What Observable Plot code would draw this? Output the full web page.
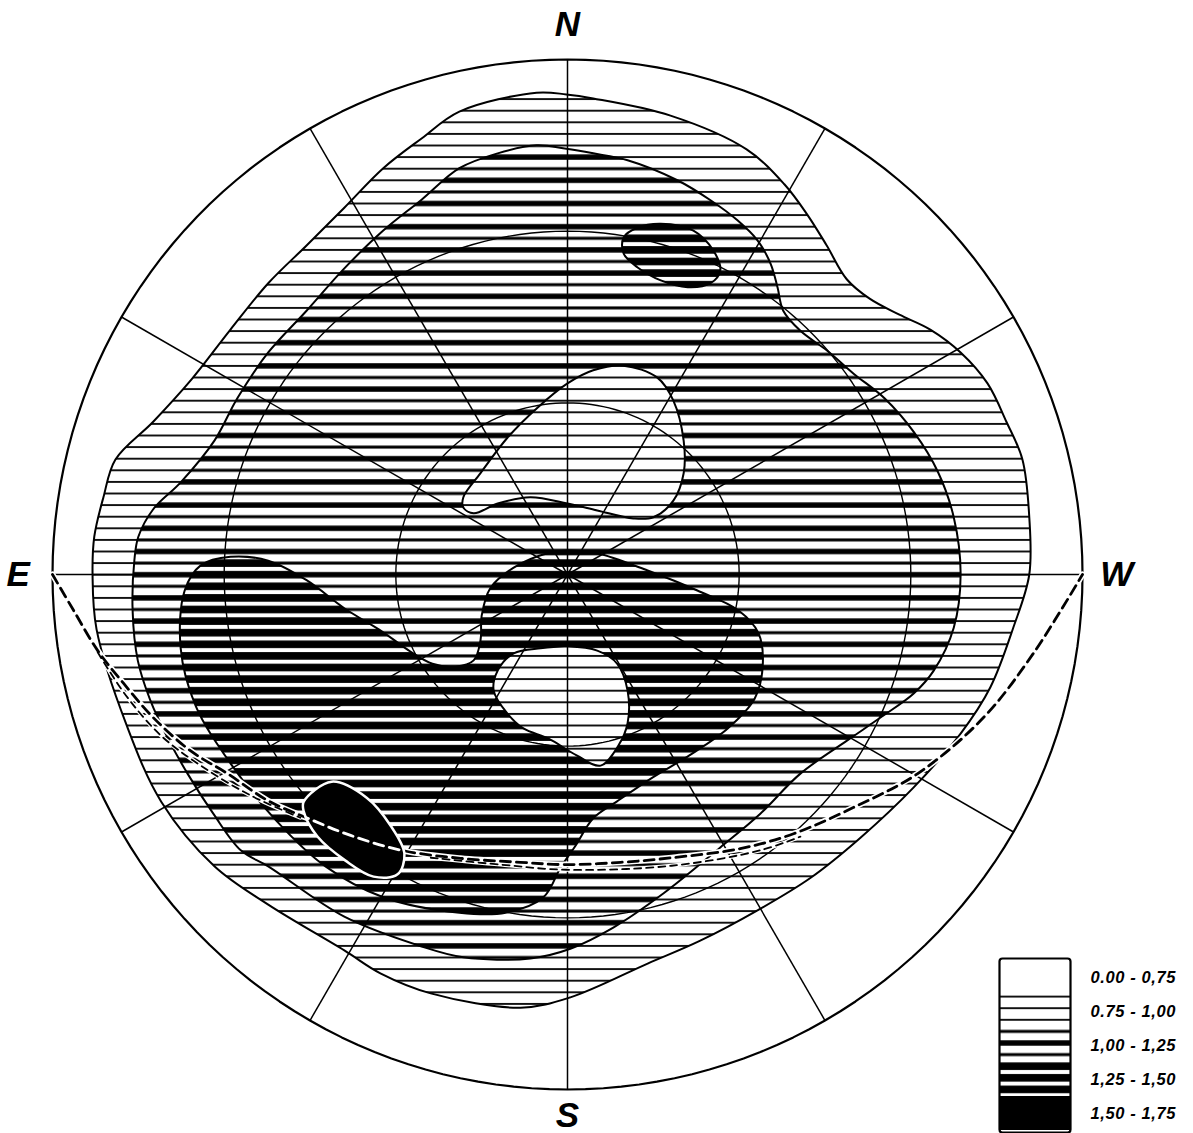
<!DOCTYPE html>
<html>
<head>
<meta charset="utf-8">
<script src="https://cdn.jsdelivr.net/npm/d3@7"></script>
<script src="https://cdn.jsdelivr.net/npm/@observablehq/plot@0.6"></script>
<style>
html, body { margin: 0; padding: 0; background: #fff; overflow: hidden; }
#wrap { position: relative; width: 1193px; height: 1133px; }
#legend { position: absolute; left: 997px; top: 956px; display: flex; }
</style>
</head>
<body>
<div id="wrap"><div id="legend"></div></div>
<script>
// ---------- DATA (x, y in degrees of zenith distance; x → west, y → north) ----------
const classes = ["0.00 - 0,75", "0.75 - 1,00", "1,00 - 1,25", "1,25 - 1,50", "1,50 - 1,75"];

// outer contour 0.75 (light hatched region)
const contour075 = [[-0.2,83.9],[4.5,83.2],[18.0,80.2],[31.3,74.3],[37.9,68.2],[41.9,62.9],[45.3,57.5],[48.8,51.6],[52.8,48.2],[58.0,45.4],[63.4,42.8],[68.7,38.8],[73.4,33.4],[76.7,26.7],[79.5,20.1],[80.7,10.0],[80.7,0],[77.9,-9.3],[73.9,-19.7],[68.7,-27.8],[60.5,-37.2],[51.2,-46.0],[42.5,-53.0],[33.2,-58.7],[23.2,-64.0],[14.0,-68.0],[0.5,-73.9],[-8.2,-75.7],[-23.9,-73.2],[-32.7,-69.7],[-39.0,-65.7],[-52.3,-57.7],[-61.7,-51.0],[-71.0,-39.7],[-77.1,-26.2],[-82.3,-9.6],[-83.0,0],[-82.7,6.6],[-81.1,13.5],[-79.0,20.1],[-72.4,26.7],[-65.7,34.1],[-58.9,42.8],[-52.3,50.9],[-45.6,57.5],[-39.0,64.1],[-32.2,71.0],[-25.5,76.2],[-18.9,80.9],[-5.4,84.2]];

// contour 1.00 (medium hatched region)
const contour100 = [[-5.4,75.0],[-0.2,74.4],[4.5,73.6],[10.5,72.4],[19.2,68.9],[25.0,65.4],[29.7,61.9],[33.2,58.4],[35.5,54.3],[36.7,50.2],[37.7,46.1],[40.7,42.6],[45.4,39.1],[50.0,35.1],[55.4,30.8],[60.6,24.8],[64.7,18.0],[67.5,10.0],[68.7,0],[67.5,-9.3],[64.0,-16.8],[60.5,-20.8],[54.7,-25.0],[48.9,-29.0],[40.7,-34.8],[33.7,-41.8],[26.7,-47.7],[16.8,-55.7],[8.0,-61.7],[0.5,-65.4],[-6.5,-67.1],[-18.2,-66.9],[-25.5,-65.0],[-39.0,-59.8],[-52.3,-51.0],[-57.1,-48.2],[-61.9,-41.8],[-66.4,-34.8],[-69.9,-28.5],[-72.9,-22.0],[-75.1,-15.0],[-76.0,-6.3],[-75.7,2.4],[-75.0,6.6],[-72.4,11.4],[-67.6,16.1],[-61.7,23.4],[-57.7,30.8],[-52.3,38.8],[-45.6,46.1],[-39.0,53.5],[-32.2,60.1],[-25.5,65.5],[-18.9,71.0],[-12.2,73.6]];

// contour 1.25 (dark hatched region)
const contour125 = [[-58.9,3.1],[-52.3,2.4],[-45.6,-1.0],[-39.0,-5.9],[-32.2,-10.1],[-27.4,-13.5],[-23.6,-15.6],[-19.6,-16.1],[-16.4,-15.0],[-15.2,-11.5],[-15.0,-7.2],[-13.5,-2.4],[-9.4,1.2],[-3.5,3.7],[0.5,4.2],[5.2,3.7],[14.0,0.7],[22.7,-2.8],[29.9,-6.3],[33.4,-10.3],[34.1,-16.3],[32.7,-21.7],[28.0,-26.9],[21.3,-31.6],[14.5,-35.7],[8.6,-39.7],[4.5,-42.6],[1.4,-47.4],[-1.2,-51.2],[-4.2,-56.4],[-10.8,-59.1],[-18.9,-59.1],[-32.2,-56.4],[-42.3,-51.0],[-50.9,-43.0],[-58.9,-33.0],[-65.0,-22.9],[-67.6,-12.9],[-66.9,-2.8],[-64.1,1.6]];

// small dark region in the north-west
const contour125b = [[9.8,58.9],[12.2,60.6],[16.3,61.3],[22.0,60.1],[25.5,56.6],[26.7,53.1],[25.0,50.9],[21.0,50.2],[16.3,51.4],[12.2,53.7],[9.8,56.1]];

// lighter pockets (0.75 - 1.00)
const pocketUpper = [[9.8,36.5],[15.7,34.4],[18.5,30.4],[20.3,23.4],[20.3,17.7],[18.5,12.9],[15.0,10.0],[11.5,9.8],[5.2,11.2],[0,12.4],[-6.5,13.5],[-12.2,12.4],[-16.4,10.7],[-18.2,11.7],[-18.2,13.5],[-15.2,17.7],[-10.5,23.9],[-5.2,29.2],[0,33.4],[4.5,35.7]];
const pocketLower = [[-4.7,-12.9],[0,-12.6],[5.2,-13.3],[8.7,-15.6],[10.5,-20.3],[10.5,-26.0],[8.9,-29.9],[5.8,-33.4],[1.6,-31.6],[-3.3,-28.7],[-7.7,-26.9],[-10.5,-24.3],[-12.9,-20.3],[-12.2,-16.8],[-9.4,-13.8]];

// maximum 1.50 - 1.75
const maximum150 = [[-46.1,-39.7],[-41.2,-36.2],[-35.1,-39.0],[-30.9,-43.9],[-28.5,-48.8],[-29.7,-52.4],[-33.9,-52.8],[-38.8,-50.0],[-43.7,-45.8],[-46.1,-41.4]];

// dashed paths
const pathA = [[-90,0],[-86.3,-6.3],[-82.1,-13.3],[-77.6,-19.0],[-72.4,-25.0],[-65.9,-30.8],[-59.4,-34.8],[-52.4,-39.5],[-45.4,-42.6],[-37.9,-45.6],[-29.0,-48.2],[-18.7,-49.6],[-8.2,-50.3],[-0.2,-50.7],[9.3,-50.3],[18.2,-49.5],[30.2,-47.9],[39.5,-45.3],[50.0,-40.7],[61.2,-34.8],[72.7,-25.0],[81.4,-13.8],[90,0]];
const pathB1 = [[-82.1,-13.6],[-77.2,-21.1],[-71.1,-28.1],[-64.1,-33.4],[-55.4,-38.6],[-46.7,-42.5]];
const pathB2 = [[-23.9,-49.5],[-11.7,-50.7],[-0.2,-51.6],[18.2,-50.9],[33.7,-48.2],[40.7,-45.8]];

// net
const rings = [30, 60, 90];
const spokeAz = d3.range(0, 360, 30);
const compassLabels = ["N", "W", "S", "E"];
const compassAz = [0, 90, 180, 270];

// ---------- STYLE ----------
const P = 11.6;               // hatch pitch (px)
const k = 515 / 90;           // px per degree
const cx = 567, cy = 574, W = 1193, H = 1133;
const compassR = [96, 96, 94.6, 96];
const fills = ["white", "url(#hatch-light)", "url(#hatch-medium)", "url(#hatch-dark)", "black"];
const rad = a => a * Math.PI / 180;

const ringPts = rings.flatMap(r => d3.range(0, 361, 2).map(a => ({r, a})));
const X = d => d[0], Y = d => d[1];

const region = (data, fill, extra = {}) => Plot.line(data, {x: X, y: Y, curve: "catmull-rom-closed", fill, stroke: "black", strokeWidth: 2, ...extra});

const chart = Plot.plot({
  width: W, height: H, margin: 0,
  x: {domain: [-cx / k, (W - cx) / k], axis: null},
  y: {domain: [(cy - H) / k, cy / k], axis: null},
  marks: [
    region(contour075, fills[1]),
    region(contour100, fills[2]),
    region(contour125, fills[3]),
    region(contour125b, fills[3]),
    region(pocketUpper, fills[1]),
    region(pocketLower, fills[1]),
    Plot.link(spokeAz, {x1: () => 0, y1: () => 0, x2: a => 90 * Math.sin(rad(a)), y2: a => 90 * Math.cos(rad(a)), stroke: "black", strokeWidth: 1.5}),
    Plot.line(ringPts.filter(d => d.r < 90), {x: d => d.r * Math.sin(rad(d.a)), y: d => d.r * Math.cos(rad(d.a)), z: "r", stroke: "black", strokeWidth: 1.4}),
    Plot.line(ringPts.filter(d => d.r === 90), {x: d => d.r * Math.sin(rad(d.a)), y: d => d.r * Math.cos(rad(d.a)), stroke: "black", strokeWidth: 2.2}),
    Plot.line(pathA, {x: X, y: Y, curve: "catmull-rom", stroke: "white", strokeWidth: 6}),
    Plot.line(pathB1, {x: X, y: Y, curve: "catmull-rom", stroke: "white", strokeWidth: 4}),
    Plot.line(pathB2, {x: X, y: Y, curve: "catmull-rom", stroke: "white", strokeWidth: 4}),
    Plot.line(pathB1, {x: X, y: Y, curve: "catmull-rom", stroke: "black", strokeWidth: 1.8, strokeDasharray: "7,5"}),
    Plot.line(pathB2, {x: X, y: Y, curve: "catmull-rom", stroke: "black", strokeWidth: 1.8, strokeDasharray: "7,5"}),
    Plot.line(pathA, {x: X, y: Y, curve: "catmull-rom", stroke: "black", strokeWidth: 2.8, strokeDasharray: "10,6"}),
    region(maximum150, "black", {stroke: "white", strokeWidth: 2.5, ariaDescription: "maximum"}),
    Plot.line(pathA, {x: X, y: Y, curve: "catmull-rom", stroke: "white", strokeWidth: 2.8, strokeDasharray: "10,6", ariaDescription: "inner-dash"}),
    Plot.text(compassLabels, {x: (d, i) => compassR[i] * Math.sin(rad(compassAz[i])), y: (d, i) => compassR[i] * Math.cos(rad(compassAz[i])), text: d => d, fontSize: 35, fontStyle: "italic", fontWeight: "bold", fontFamily: "Liberation Sans", fill: "black"})
  ]
});

// hatch patterns
const defs = d3.select(chart).insert("defs", ":first-child");
function pattern(id, h, bars) {
  const p = defs.append("pattern").attr("id", id).attr("patternUnits", "userSpaceOnUse").attr("width", 10).attr("height", h);
  p.append("rect").attr("width", 10).attr("height", h).attr("fill", "white");
  bars.forEach(([c, t]) => p.append("rect").attr("x", 0).attr("y", c - t / 2).attr("width", 10).attr("height", t).attr("fill", "black"));
}
pattern("hatch-light", P, [[P / 2, 1.8]]);
pattern("hatch-medium", 2 * P, [[P / 2, 3.0], [1.5 * P, 5.4]]);
pattern("hatch-dark", P, [[P / 2, 7.6]]);

// clip the white dashes to the maximum
const maxPath = chart.querySelector('g[aria-description="maximum"] path');
defs.append("clipPath").attr("id", "maxClip").append("path").attr("d", maxPath.getAttribute("d"));
chart.querySelectorAll('g[aria-description="inner-dash"] path').forEach(p => p.setAttribute("clip-path", "url(#maxClip)"));

document.getElementById("wrap").prepend(chart);

// legend
const swatches = Plot.plot({
  width: 75, height: 178, margin: 2,
  y: {type: "band", domain: classes, padding: 0, axis: null},
  marks: [
    ...classes.map((c, i) => Plot.cell([c], {y: d => d, fill: fills[i]})),
    Plot.frame({stroke: "black", strokeWidth: 2.2, rx: 3})
  ]
});
const labels = Plot.plot({
  width: 118, height: 178, margin: 2, marginLeft: 18,
  y: {type: "band", domain: classes, padding: 0, axis: null},
  style: {letterSpacing: "0.6px"},
  marks: [
    Plot.text(classes, {y: d => d, text: d => d, frameAnchor: "left", textAnchor: "start", fontSize: 16.5, fontStyle: "italic", fontWeight: "bold", fontFamily: "Liberation Sans", fill: "black"})
  ]
});
document.getElementById("legend").append(swatches, labels);
</script>
</body>
</html>
